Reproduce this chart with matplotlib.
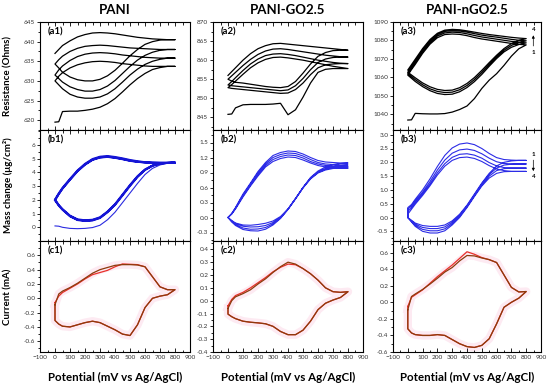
import matplotlib
matplotlib.use('Agg')
import matplotlib.pyplot as plt
from matplotlib.ticker import MultipleLocator, AutoMinorLocator

plt.rcParams['font.family'] = ['Lato', 'DejaVu Sans']

# ---------------- data ----------------
POT = [0, 25, 50, 100, 150, 200, 250, 300, 350, 400, 450, 500, 550, 600, 650, 700, 750, 800]

COL_TITLES = ['PANI', 'PANI-GO2.5', 'PANI-nGO2.5']
ROW_LABELS = ['Resistance (Ohms)', 'Mass change (\u03bcg/cm\u00b2)', 'Current (mA)']
XLABEL = 'Potential (mV vs Ag/AgCl)'

# (a1) resistance, PANI
A1_FWD = [
    [619.5, 619.6, 622.2, 622.3, 622.3, 622.5, 622.8, 623.3, 624.2, 625.5, 627.2, 629.0, 630.6, 631.9, 632.9, 633.4, 633.7, 633.7],
    [630.0, 629.0, 628.0, 626.6, 625.9, 625.6, 625.6, 625.9, 626.7, 628.0, 629.7, 631.5, 633.0, 634.2, 635.0, 635.5, 635.8, 635.8],
    [631.5, 630.6, 629.7, 628.5, 627.8, 627.4, 627.4, 627.8, 628.7, 630.1, 631.9, 633.7, 635.3, 636.5, 637.3, 637.8, 638.0, 638.0],
    [634.3, 633.3, 632.2, 631.0, 630.3, 630.0, 630.0, 630.4, 631.3, 632.7, 634.5, 636.4, 638.0, 639.3, 640.0, 640.4, 640.5, 640.5],
]
A1_REV = [
    [630.0, 631.2, 632.1, 633.3, 634.1, 634.6, 634.9, 635.0, 634.9, 634.7, 634.4, 634.2, 634.0, 633.8, 633.7, 633.7, 633.7, 633.7],
    [631.5, 632.8, 633.8, 635.2, 636.2, 636.8, 637.1, 637.2, 637.1, 636.9, 636.6, 636.4, 636.2, 636.0, 635.9, 635.8, 635.8, 635.8],
    [634.3, 635.4, 636.3, 637.5, 638.3, 638.8, 639.0, 639.1, 639.0, 638.8, 638.6, 638.4, 638.3, 638.2, 638.1, 638.0, 638.0, 638.0],
    [637.0, 638.0, 639.0, 640.2, 641.2, 641.8, 642.2, 642.3, 642.2, 642.0, 641.7, 641.4, 641.1, 640.9, 640.7, 640.6, 640.5, 640.5],
]

# (a2) resistance, PANI-GO2.5
A2_FWD = [
    [845.8, 845.9, 847.5, 848.3, 848.4, 848.4, 848.4, 848.5, 848.7, 845.7, 847.0, 850.3, 854.0, 856.8, 857.6, 857.8, 857.8, 857.8],
    [852.8, 852.6, 852.5, 852.3, 852.1, 851.9, 851.7, 851.5, 851.3, 851.4, 852.3, 854.0, 856.2, 858.0, 858.8, 859.0, 859.1, 859.1],
    [853.5, 853.3, 853.2, 853.0, 852.8, 852.6, 852.4, 852.2, 852.0, 852.2, 853.3, 855.2, 857.5, 859.4, 860.3, 860.7, 860.8, 860.8],
    [855.0, 854.5, 854.2, 854.0, 853.7, 853.4, 853.1, 852.9, 852.8, 853.1, 854.4, 856.6, 859.0, 861.0, 862.0, 862.5, 862.6, 862.6],
]
A2_REV = [
    [852.8, 853.6, 854.5, 856.3, 858.0, 859.3, 860.2, 860.7, 860.8, 860.6, 860.3, 860.0, 859.6, 859.2, 858.8, 858.4, 858.1, 857.8],
    [853.5, 854.4, 855.4, 857.3, 859.0, 860.3, 861.2, 861.6, 861.7, 861.5, 861.2, 860.8, 860.4, 860.0, 859.7, 859.4, 859.2, 859.1],
    [855.0, 855.9, 856.8, 858.6, 860.2, 861.5, 862.4, 862.9, 863.0, 862.8, 862.5, 862.2, 861.9, 861.6, 861.3, 861.1, 860.9, 860.8],
    [856.0, 857.0, 858.0, 860.0, 861.7, 863.0, 863.8, 864.3, 864.4, 864.2, 864.0, 863.8, 863.6, 863.4, 863.2, 863.0, 862.8, 862.6],
]

# (a3) resistance, PANI-nGO2.5
A3_FWD = [
    [1036.9, 1037.0, 1040.5, 1040.3, 1040.2, 1040.2, 1040.4, 1041.2, 1042.6, 1044.5, 1048.5, 1054.0, 1058.5, 1062.0, 1066.5, 1071.5, 1075.5, 1077.6],
    [1061.2, 1059.5, 1057.8, 1055.0, 1052.8, 1051.3, 1050.7, 1050.9, 1052.2, 1054.5, 1057.7, 1061.6, 1066.0, 1070.2, 1073.8, 1076.3, 1077.8, 1078.7],
    [1062.0, 1060.4, 1058.8, 1056.0, 1053.8, 1052.4, 1051.8, 1052.0, 1053.3, 1055.6, 1058.8, 1062.7, 1067.0, 1071.1, 1074.7, 1077.3, 1078.9, 1079.8],
    [1062.8, 1061.3, 1059.8, 1057.0, 1054.9, 1053.5, 1052.9, 1053.1, 1054.4, 1056.7, 1059.9, 1063.8, 1068.0, 1072.0, 1075.6, 1078.3, 1080.0, 1081.0],
]
A3_REV = [
    [1061.2, 1064.2, 1067.0, 1073.0, 1078.0, 1081.5, 1083.2, 1083.5, 1083.3, 1082.6, 1081.6, 1080.8, 1080.2, 1079.6, 1079.0, 1078.4, 1077.9, 1077.6],
    [1062.0, 1065.0, 1067.9, 1073.9, 1078.9, 1082.4, 1084.1, 1084.5, 1084.3, 1083.6, 1082.7, 1081.9, 1081.3, 1080.7, 1080.1, 1079.5, 1079.0, 1078.7],
    [1062.8, 1065.8, 1068.7, 1074.7, 1079.7, 1083.2, 1084.9, 1085.3, 1085.1, 1084.5, 1083.7, 1082.9, 1082.3, 1081.8, 1081.2, 1080.6, 1080.1, 1079.8],
    [1064.0, 1067.0, 1069.8, 1075.6, 1080.5, 1083.9, 1085.6, 1086.0, 1085.8, 1085.2, 1084.5, 1083.8, 1083.2, 1082.7, 1082.2, 1081.7, 1081.3, 1081.0],
]

# (b1) mass change, PANI
B1_FWD = [
    [0.10, 0.08, 0.00, -0.08, -0.10, -0.08, -0.02, 0.15, 0.55, 1.10, 1.80, 2.50, 3.20, 3.85, 4.30, 4.55, 4.68, 4.72],
    [2.00, 1.60, 1.30, 0.82, 0.55, 0.48, 0.52, 0.70, 1.12, 1.65, 2.35, 3.05, 3.70, 4.20, 4.50, 4.64, 4.70, 4.72],
    [2.04, 1.64, 1.34, 0.86, 0.59, 0.52, 0.56, 0.74, 1.16, 1.70, 2.40, 3.10, 3.74, 4.23, 4.52, 4.65, 4.71, 4.73],
    [1.96, 1.57, 1.27, 0.79, 0.52, 0.45, 0.49, 0.67, 1.09, 1.62, 2.31, 3.01, 3.66, 4.17, 4.48, 4.63, 4.69, 4.71],
]
B1_REV = [
    [2.00, 2.45, 2.85, 3.50, 4.12, 4.60, 4.95, 5.12, 5.17, 5.10, 5.00, 4.88, 4.80, 4.74, 4.72, 4.71, 4.71, 4.72],
    [2.04, 2.49, 2.89, 3.54, 4.16, 4.64, 4.99, 5.16, 5.21, 5.14, 5.04, 4.92, 4.83, 4.76, 4.73, 4.72, 4.72, 4.73],
    [1.96, 2.41, 2.81, 3.46, 4.08, 4.56, 4.91, 5.08, 5.13, 5.06, 4.96, 4.84, 4.77, 4.72, 4.70, 4.70, 4.70, 4.71],
    [1.98, 2.43, 2.83, 3.48, 4.10, 4.58, 4.93, 5.10, 5.15, 5.08, 4.98, 4.86, 4.78, 4.73, 4.71, 4.70, 4.70, 4.71],
]

# (b2) mass change, PANI-GO2.5
B2_FWD = [
    [0.00, -0.06, -0.11, -0.15, -0.155, -0.14, -0.115, -0.07, 0.02, 0.17, 0.38, 0.60, 0.80, 0.93, 1.01, 1.06, 1.08, 1.09],
    [0.00, -0.07, -0.12, -0.175, -0.19, -0.185, -0.16, -0.10, 0.00, 0.17, 0.38, 0.60, 0.79, 0.91, 0.98, 1.02, 1.04, 1.05],
    [0.00, -0.08, -0.14, -0.21, -0.235, -0.23, -0.20, -0.125, -0.01, 0.165, 0.375, 0.595, 0.78, 0.90, 0.965, 1.00, 1.015, 1.02],
    [0.00, -0.09, -0.16, -0.24, -0.265, -0.27, -0.235, -0.15, -0.02, 0.16, 0.37, 0.59, 0.77, 0.89, 0.95, 0.98, 0.99, 0.99],
]
B2_REV = [
    [0.00, 0.08, 0.20, 0.47, 0.69, 0.92, 1.10, 1.24, 1.30, 1.33, 1.32, 1.27, 1.20, 1.14, 1.11, 1.10, 1.09, 1.09],
    [0.00, 0.08, 0.19, 0.45, 0.67, 0.89, 1.07, 1.20, 1.26, 1.29, 1.28, 1.23, 1.16, 1.10, 1.07, 1.06, 1.05, 1.05],
    [0.00, 0.07, 0.18, 0.43, 0.65, 0.86, 1.04, 1.16, 1.22, 1.25, 1.24, 1.19, 1.12, 1.07, 1.04, 1.03, 1.02, 1.02],
    [0.00, 0.07, 0.17, 0.41, 0.63, 0.83, 1.01, 1.12, 1.18, 1.21, 1.20, 1.15, 1.09, 1.04, 1.01, 1.00, 0.99, 0.99],
]

# (b3) mass change, PANI-nGO2.5
B3_FWD = [
    [0.00, -0.10, -0.20, -0.29, -0.32, -0.32, -0.27, -0.12, 0.12, 0.45, 0.85, 1.25, 1.60, 1.87, 2.00, 2.05, 2.07, 2.07],
    [0.00, -0.12, -0.24, -0.36, -0.40, -0.40, -0.34, -0.17, 0.08, 0.42, 0.82, 1.22, 1.56, 1.79, 1.90, 1.93, 1.94, 1.94],
    [0.00, -0.14, -0.28, -0.43, -0.48, -0.48, -0.41, -0.22, 0.04, 0.39, 0.79, 1.18, 1.50, 1.70, 1.77, 1.79, 1.79, 1.79],
    [0.00, -0.16, -0.32, -0.50, -0.56, -0.56, -0.48, -0.27, 0.00, 0.36, 0.76, 1.14, 1.43, 1.60, 1.66, 1.67, 1.67, 1.67],
]
B3_REV = [
    [0.36, 0.47, 0.66, 1.00, 1.40, 1.85, 2.25, 2.52, 2.66, 2.70, 2.64, 2.50, 2.32, 2.17, 2.10, 2.08, 2.07, 2.07],
    [0.30, 0.42, 0.60, 0.92, 1.30, 1.72, 2.08, 2.33, 2.45, 2.48, 2.43, 2.31, 2.15, 2.02, 1.96, 1.94, 1.94, 1.94],
    [0.22, 0.36, 0.54, 0.86, 1.22, 1.62, 1.95, 2.18, 2.29, 2.31, 2.26, 2.15, 1.99, 1.87, 1.81, 1.79, 1.79, 1.79],
    [0.12, 0.30, 0.48, 0.80, 1.15, 1.54, 1.86, 2.07, 2.17, 2.19, 2.14, 2.03, 1.88, 1.76, 1.70, 1.67, 1.67, 1.67],
]

# (c) current, two cycles each: [red, brown]
C1_FWD = [
    [-0.06, 0.03, 0.08, 0.14, 0.20, 0.27, 0.33, 0.36, 0.39, 0.44, 0.48, 0.475, 0.47, 0.44, 0.30, 0.16, 0.12, 0.12],
    [-0.09, 0.06, 0.10, 0.15, 0.21, 0.28, 0.35, 0.40, 0.43, 0.46, 0.47, 0.47, 0.465, 0.44, 0.30, 0.16, 0.12, 0.12],
]
C1_REV = [
    [-0.31, -0.36, -0.39, -0.40, -0.37, -0.34, -0.32, -0.34, -0.39, -0.44, -0.50, -0.52, -0.37, -0.13, 0.00, 0.03, 0.05, 0.12],
    [-0.31, -0.36, -0.39, -0.40, -0.37, -0.34, -0.32, -0.34, -0.39, -0.44, -0.50, -0.52, -0.37, -0.13, 0.00, 0.03, 0.05, 0.12],
]
C2_FWD = [
    [-0.04, 0.01, 0.04, 0.065, 0.10, 0.14, 0.18, 0.225, 0.26, 0.285, 0.28, 0.25, 0.21, 0.16, 0.10, 0.07, 0.065, 0.07],
    [-0.06, 0.00, 0.03, 0.055, 0.085, 0.13, 0.17, 0.22, 0.265, 0.30, 0.285, 0.25, 0.21, 0.16, 0.10, 0.07, 0.065, 0.07],
]
C2_REV = [
    [-0.105, -0.125, -0.14, -0.16, -0.168, -0.173, -0.18, -0.20, -0.24, -0.265, -0.265, -0.23, -0.16, -0.07, -0.02, 0.005, 0.025, 0.07],
    [-0.105, -0.125, -0.14, -0.16, -0.168, -0.173, -0.18, -0.20, -0.24, -0.265, -0.265, -0.23, -0.16, -0.07, -0.02, 0.005, 0.025, 0.07],
]
C3_FWD = [
    [-0.05, 0.06, 0.09, 0.15, 0.23, 0.31, 0.38, 0.45, 0.53, 0.61, 0.58, 0.54, 0.515, 0.48, 0.33, 0.18, 0.125, 0.13],
    [-0.09, 0.07, 0.10, 0.155, 0.22, 0.29, 0.365, 0.42, 0.50, 0.565, 0.56, 0.535, 0.515, 0.48, 0.33, 0.18, 0.125, 0.13],
]
C3_REV = [
    [-0.32, -0.37, -0.39, -0.40, -0.40, -0.39, -0.40, -0.45, -0.50, -0.535, -0.545, -0.52, -0.44, -0.26, -0.06, 0.00, 0.05, 0.13],
    [-0.32, -0.37, -0.39, -0.40, -0.40, -0.39, -0.40, -0.45, -0.50, -0.535, -0.545, -0.52, -0.44, -0.26, -0.06, 0.00, 0.05, 0.13],
]

# ---------------- helpers ----------------
def cycle_path(fwds, revs):
    xs, ys = [], []
    for f, r in zip(fwds, revs):
        xs += POT + POT[::-1]
        ys += list(f) + list(r)[::-1]
    return xs, ys

def closed_loop(f, r):
    xs = POT + POT[::-1] + [POT[0]]
    ys = list(f) + list(r)[::-1] + [f[0]]
    return xs, ys

# ---------------- figure ----------------
fig = plt.figure(figsize=(5.5, 3.86), dpi=100)
W, H = 550.0, 386.0
col_x = [(40, 150), (213, 150), (393, 148)]
row_y = [(22, 130), (130, 241), (241, 352)]

axes = [[None] * 3 for _ in range(3)]
for r, (yt, yb) in enumerate(row_y):
    for c, (xl, w) in enumerate(col_x):
        ax = fig.add_axes([xl / W, 1 - yb / H, w / W, (yb - yt) / H])
        axes[r][c] = ax

ylims = [[(617.5, 645), (841.7, 870), (1031.5, 1090)],
         [(-1.0, 7.1), (-0.47, 1.75), (-0.85, 3.17)],
         [(-0.75, 0.8), (-0.4, 0.465), (-0.6, 0.74)]]
ymaj = [[5, 5, 10], [1, 0.3, 0.5], [0.2, 0.1, 0.2]]
ytick_ranges = [[(620, 645), (845, 870), (1040, 1090)],
                [(0, 6), (-0.3, 1.5), (-0.5, 3.0)],
                [(-0.6, 0.6), (-0.4, 0.4), (-0.6, 0.6)]]
labels = [['(a1)', '(a2)', '(a3)'], ['(b1)', '(b2)', '(b3)'], ['(c1)', '(c2)', '(c3)']]

for r in range(3):
    for c in range(3):
        ax = axes[r][c]
        ax.set_xlim(-100, 900)
        ax.set_ylim(*ylims[r][c])
        ax.xaxis.set_major_locator(MultipleLocator(100))
        ax.xaxis.set_minor_locator(MultipleLocator(50))
        lo, hi = ytick_ranges[r][c]
        step = ymaj[r][c]
        n = int(round((hi - lo) / step))
        ticks = [round(lo + i * step, 6) for i in range(n + 1)]
        ax.set_yticks(ticks)
        if r == 0 or (r == 1 and c == 0):
            ax.set_yticklabels([f'{t:g}' for t in ticks])
        else:
            ax.set_yticklabels([f'{t:.1f}' for t in ticks])
        ax.yaxis.set_minor_locator(AutoMinorLocator(2))
        ax.tick_params(axis='x', which='both', direction='in', top=True, bottom=True,
                       width=0.6, labelsize=4.6, labelcolor='#333333', pad=2)
        ax.tick_params(axis='x', which='major', length=3)
        ax.tick_params(axis='x', which='minor', length=1.8)
        ax.tick_params(axis='y', which='both', direction='out', left=True, right=False,
                       width=0.6, labelsize=4.6, labelcolor='#333333', pad=1.2)
        ax.tick_params(axis='y', which='major', length=2.2)
        ax.tick_params(axis='y', which='minor', length=1.3)
        if r < 2:
            ax.tick_params(axis='x', labelbottom=False)
        for s in ax.spines.values():
            s.set_linewidth(0.8)
        ax.text(0.05, 0.95, labels[r][c], transform=ax.transAxes, ha='left', va='top',
                fontsize=6.8, fontweight='bold')

# row a: resistance (black)
for c, (F, R) in enumerate([(A1_FWD, A1_REV), (A2_FWD, A2_REV), (A3_FWD, A3_REV)]):
    xs, ys = cycle_path(F, R)
    axes[0][c].plot(xs, ys, color='black', lw=0.9)

# row b: mass change (blue)
axes[1][0].plot(POT, B1_FWD[0], color='#2a2ae0', lw=0.8)
axes[1][0].plot(POT, B1_REV[0], color='#1515d5', lw=1.3)
xs, ys = cycle_path(B1_FWD[1:], B1_REV[1:])
axes[1][0].plot(xs, ys, color='#1515d5', lw=1.3)
for c, (F, R) in enumerate([(B2_FWD, B2_REV), (B3_FWD, B3_REV)], start=1):
    xs, ys = cycle_path(F, R)
    axes[1][c].plot(xs, ys, color='#2b2be6', lw=0.8)

# row c: current (red & brown, with pale pink halo)
for c, (F, R) in enumerate([(C1_FWD, C1_REV), (C2_FWD, C2_REV), (C3_FWD, C3_REV)]):
    ax = axes[2][c]
    xs, ys = closed_loop(F[1], R[1])
    ax.plot(xs, ys, color='#fdeaf2', lw=6, solid_joinstyle='round', zorder=1)
    xs, ys = closed_loop(F[0], R[0])
    ax.plot(xs, ys, color='#e8302a', lw=0.9, zorder=3)
    xs, ys = closed_loop(F[1], R[1])
    ax.plot(xs, ys, color='#8c3a0c', lw=0.9, zorder=4)

# annotations 1 -> 4
ax = axes[0][2]
ax.text(848, 1086, '4', fontsize=4.5, ha='center', va='center', fontweight='bold')
ax.text(848, 1073.5, '1', fontsize=4.5, ha='center', va='center', fontweight='bold')
ax.annotate('', xy=(848, 1084.3), xytext=(848, 1075.5),
            arrowprops=dict(arrowstyle='-|>', lw=0.5, color='black', mutation_scale=4))
ax = axes[1][2]
ax.text(848, 2.3, '1', fontsize=4.5, ha='center', va='center', fontweight='bold')
ax.text(848, 1.47, '4', fontsize=4.5, ha='center', va='center', fontweight='bold')
ax.annotate('', xy=(848, 1.58), xytext=(848, 2.18),
            arrowprops=dict(arrowstyle='-|>', lw=0.5, color='black', mutation_scale=4))

# titles & labels
for c, (xl, w) in enumerate(col_x):
    cx = (xl + w / 2) / W
    fig.text(cx, 1 - 10.5 / H, COL_TITLES[c], ha='center', va='center',
             fontsize=9.5, fontweight='bold')
    fig.text(cx, 1 - 377 / H, XLABEL, ha='center', va='center',
             fontsize=8.3, fontweight='bold')
for r, (yt, yb) in enumerate(row_y):
    fig.text(8 / W, 1 - (yt + yb) / 2 / H, ROW_LABELS[r], ha='center', va='center',
             rotation=90, fontsize=7, fontweight='bold')

fig.savefig('out.png', dpi=100)
